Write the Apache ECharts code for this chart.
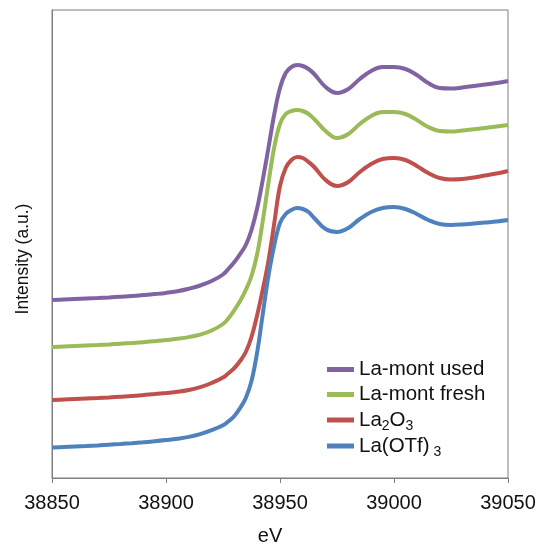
<!DOCTYPE html>
<html>
<head>
<meta charset="utf-8">
<script src="https://cdn.jsdelivr.net/npm/echarts@6/dist/echarts.min.js"></script>
<style>
  html, body { margin: 0; padding: 0; background: #fff; }
  #chart { width: 539px; height: 545px; }
</style>
</head>
<body>
<div id="chart"></div>
<script>
// photon energy (eV): 5 eV steps, 2.5 eV across the edge
const energy = [
  38850, 38855, 38860, 38865, 38870, 38875, 38880, 38885, 38890, 38895,
  38900, 38905, 38910, 38915, 38920, 38925,
  38927.5, 38930, 38932.5, 38935, 38937.5, 38940, 38942.5, 38945,
  38947.5, 38950, 38952.5, 38955, 38957.5, 38960, 38962.5,
  38965, 38970, 38975, 38980, 38985, 38990, 38995, 39000, 39005,
  39010, 39015, 39020, 39025, 39030, 39035, 39040, 39045, 39050
];

// stacked intensities (a.u.)
const laMontUsed = [
  1.780, 1.785, 1.790, 1.795, 1.800, 1.806, 1.813, 1.820, 1.829, 1.839,
  1.851, 1.868, 1.893, 1.925, 1.970, 2.035,
  2.095, 2.160, 2.240, 2.330, 2.480, 2.700, 2.990, 3.310,
  3.640, 3.900, 4.050, 4.110, 4.130, 4.120, 4.090,
  4.040, 3.910, 3.850, 3.890, 3.990, 4.070, 4.110, 4.110, 4.090,
  4.030, 3.950, 3.900, 3.895, 3.905, 3.920, 3.935, 3.950, 3.970
];
const laMontFresh = [
  1.310, 1.315, 1.320, 1.325, 1.330, 1.336, 1.343, 1.350, 1.358, 1.368,
  1.379, 1.392, 1.409, 1.434, 1.475, 1.540,
  1.600, 1.680, 1.770, 1.880, 2.020, 2.240, 2.580, 2.960,
  3.310, 3.540, 3.640, 3.670, 3.680, 3.670, 3.640,
  3.590, 3.470, 3.400, 3.440, 3.540, 3.620, 3.660, 3.660, 3.640,
  3.580, 3.510, 3.470, 3.465, 3.475, 3.488, 3.500, 3.515, 3.530
];
const la2O3 = [
  0.780, 0.785, 0.790, 0.795, 0.800, 0.806, 0.813, 0.820, 0.829, 0.839,
  0.850, 0.862, 0.880, 0.908, 0.950, 1.005,
  1.050, 1.100, 1.170, 1.260, 1.410, 1.630, 1.890, 2.180,
  2.550, 2.920, 3.100, 3.180, 3.210, 3.200, 3.160,
  3.110, 2.980, 2.920, 2.960, 3.060, 3.140, 3.190, 3.200, 3.180,
  3.120, 3.050, 3.000, 2.985, 2.990, 3.005, 3.025, 3.045, 3.070
];
const laOTf3 = [
  0.305, 0.310, 0.315, 0.320, 0.326, 0.333, 0.340, 0.348, 0.357, 0.367,
  0.379, 0.393, 0.411, 0.438, 0.478, 0.528,
  0.570, 0.620, 0.700, 0.800, 0.970, 1.260, 1.650, 2.030,
  2.330, 2.550, 2.640, 2.680, 2.700, 2.690, 2.660,
  2.600, 2.490, 2.460, 2.500, 2.590, 2.660, 2.700, 2.710, 2.690,
  2.640, 2.580, 2.540, 2.530, 2.535, 2.545, 2.555, 2.565, 2.580
];

const seriesNames = ["La-mont used", "La-mont fresh", "La2O3", "La(OTf)3"];
const seriesColors = ["#8064a2", "#9bbb59", "#c0504d", "#4f81bd"];
const seriesValues = [laMontUsed, laMontFresh, la2O3, laOTf3];

// legend labels with subscripts
const legendLabels = {
  "La-mont used": "{n|La-mont used}",
  "La-mont fresh": "{n|La-mont fresh}",
  "La2O3": "{n|La}{s|2}{n|O}{s|3}",
  "La(OTf)3": "{n|La(OTf)}{s| 3}",
};

const chart = echarts.init(document.getElementById("chart"));

const option = {
  animation: false,
  textStyle: { fontFamily: "Liberation Sans, Arial, sans-serif" },
  grid: {
    left: 52,
    right: 31,
    top: 10,
    bottom: 67,
    outerBoundsMode: "none",
    show: true,
    borderColor: "#7f7f7f",
    borderWidth: 1,
  },
  legend: {
    orient: "vertical",
    left: 322,
    top: 352,
    icon: "rect",
    itemWidth: 27,
    itemHeight: 5,
    itemGap: 0,
    data: seriesNames,
    formatter: (name) => legendLabels[name],
    textStyle: {
      color: "#111",
      fontSize: 20.5,
      lineHeight: 25,
      rich: {
        n: { fontSize: 20.5, lineHeight: 25, color: "#111" },
        s: { fontSize: 14, lineHeight: 13, padding: [12, 0, 0, 0], color: "#111" },
      },
    },
  },
  xAxis: {
    type: "value",
    min: 38850,
    max: 39050,
    interval: 50,
    name: "eV",
    nameLocation: "middle",
    nameGap: 48,
    nameTextStyle: { fontSize: 20, color: "#111", padding: [0, 20, 0, 0] },
    axisLine: { lineStyle: { color: "#7f7f7f" } },
    axisTick: { show: true, length: 5, lineStyle: { color: "#7f7f7f" } },
    axisLabel: { fontSize: 20, color: "#111", margin: 15, formatter: (v) => String(v) },
    splitLine: { show: false },
  },
  yAxis: {
    type: "value",
    min: 0,
    max: 4.68,
    name: "Intensity (a.u.)",
    nameLocation: "middle",
    nameGap: 20,
    nameTextStyle: { fontSize: 17.5, color: "#111", padding: [0, 30, 0, 0] },
    axisLine: { show: true, lineStyle: { color: "#7f7f7f" } },
    axisTick: { show: false },
    axisLabel: { show: false },
    splitLine: { show: false },
  },
  series: seriesNames.map((name, i) => ({
    name: name,
    type: "line",
    smooth: 0.4,
    showSymbol: false,
    data: energy.map((e, k) => [e, seriesValues[i][k]]),
    lineStyle: { color: seriesColors[i], width: 4 },
    itemStyle: { color: seriesColors[i] },
  })),
};

chart.setOption(option);
</script>
</body>
</html>
